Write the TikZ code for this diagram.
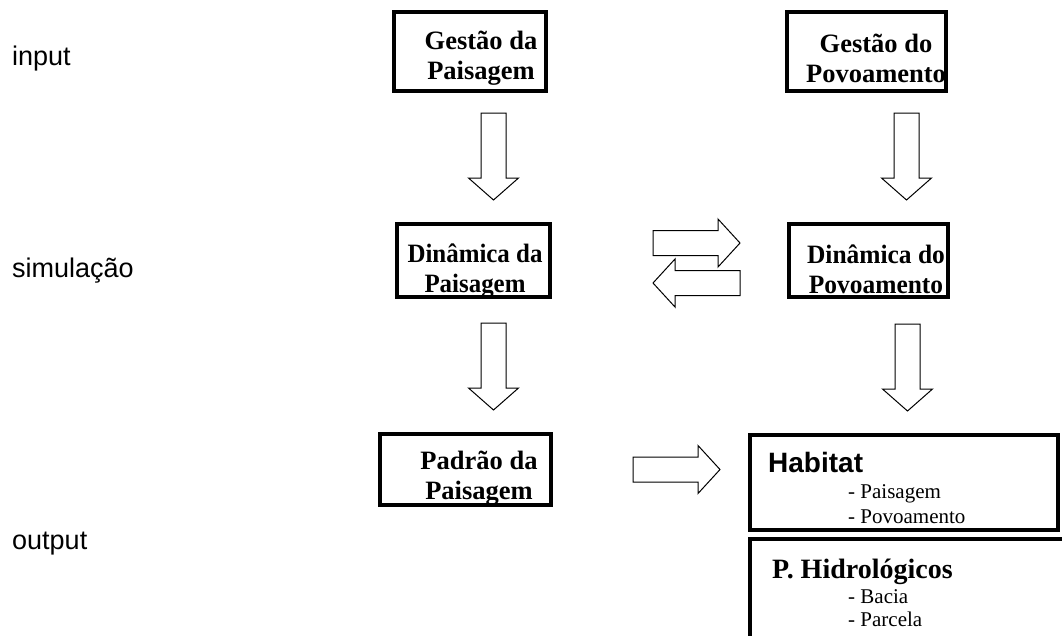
\documentclass[tikz,border=0pt]{standalone}
\usepackage{fontspec}
\setmainfont{Liberation Serif}
\newfontfamily\arialf{Liberation Sans}
\begin{document}
\begin{tikzpicture}[x=1pt,y=-1pt,
  box/.style={draw, line width=4pt, inner sep=0pt},
  boxtext/.style={font=\fontsize{26.5}{30}\selectfont\bfseries, align=center, inner sep=0pt},
  lbl/.style={font=\arialf\fontsize{27}{32}\selectfont, anchor=base west, inner sep=0pt},
  item/.style={font=\fontsize{21}{25}\selectfont, anchor=base west, inner sep=0pt},
  blk/.style={draw, line width=1pt, fill=white},
  pics/arrowdown/.style={code={\draw[blk] (-12.5,0) -- (-12.5,65) -- (-25,65) -- (0,87) -- (25,65) -- (12.5,65) -- (12.5,0) -- cycle;}},
  pics/arrowright/.style={code={\draw[blk] (0,-12.5) -- (65,-12.5) -- (65,-24) -- (87,0) -- (65,24) -- (65,12.5) -- (0,12.5) -- cycle;}},
  pics/arrowleft/.style={code={\draw[blk] (0,-12.5) -- (-65,-12.5) -- (-65,-24) -- (-87,0) -- (-65,24) -- (-65,12.5) -- (0,12.5) -- cycle;}}
]
\useasboundingbox (0,0) rectangle (1062,635);

% row labels
\node[lbl] (in) at (12,65) {input};
\node[lbl] (sim) at (12,277) {simulação};
\node[lbl] (out) at (12,549) {output};

% boxes (outer extents from the reference)
\node[box, minimum width=152pt, minimum height=79pt] (g1) at (470,51.5) {};
\node[boxtext] (g1t) at (481,58.5) {Gestão da\\Paisagem};
\node[box, minimum width=159pt, minimum height=79pt] (g2) at (866.5,51.5) {};
\node[boxtext] (g2t) at (876,58.5) {Gestão do\\Povoamento};
\node[box, minimum width=153pt, minimum height=73pt] (d1) at (473.5,260.5) {};
\node[boxtext, xscale=0.94] (d1t) at (475,271) {Dinâmica da\\Paisagem};
\node[box, minimum width=159pt, minimum height=73pt] (d2) at (868.5,260.5) {};
\node[boxtext, xscale=0.96] (d2t) at (876,269) {Dinâmica do\\Povoamento};
\node[box, minimum width=171pt, minimum height=71pt] (p1) at (465.5,469.5) {};
\node[boxtext] (p1t) at (479,478.5) {Padrão da\\Paisagem};
\node[box, minimum width=308pt, minimum height=95pt] (hab) at (904,482.5) {};
\node[box, minimum width=340pt, minimum height=104pt] (hid) at (920,591) {};

\node[anchor=base west, inner sep=0pt, font=\arialf\bfseries\fontsize{28}{32}\selectfont] (habt) at (768,472) {Habitat};
\node[item] (hab1) at (848,498) {- Paisagem};
\node[item] (hab2) at (848,523) {- Povoamento};
\node[anchor=base west, inner sep=0pt, font=\bfseries\fontsize{28}{32}\selectfont] (hidt) at (772,578) {P. Hidrológicos};
\node[item] (hid1) at (848,603) {- Bacia};
\node[item] (hid2) at (848,626) {- Parcela};

% block arrows
\pic at (493.5,113) {arrowdown};
\pic at (906.5,113) {arrowdown};
\pic at (493.5,323) {arrowdown};
\pic at (907.5,324) {arrowdown};
\pic at (653,243) {arrowright};
\pic at (740,283) {arrowleft};
\pic at (633,469.5) {arrowright};
\end{tikzpicture}
\end{document}
